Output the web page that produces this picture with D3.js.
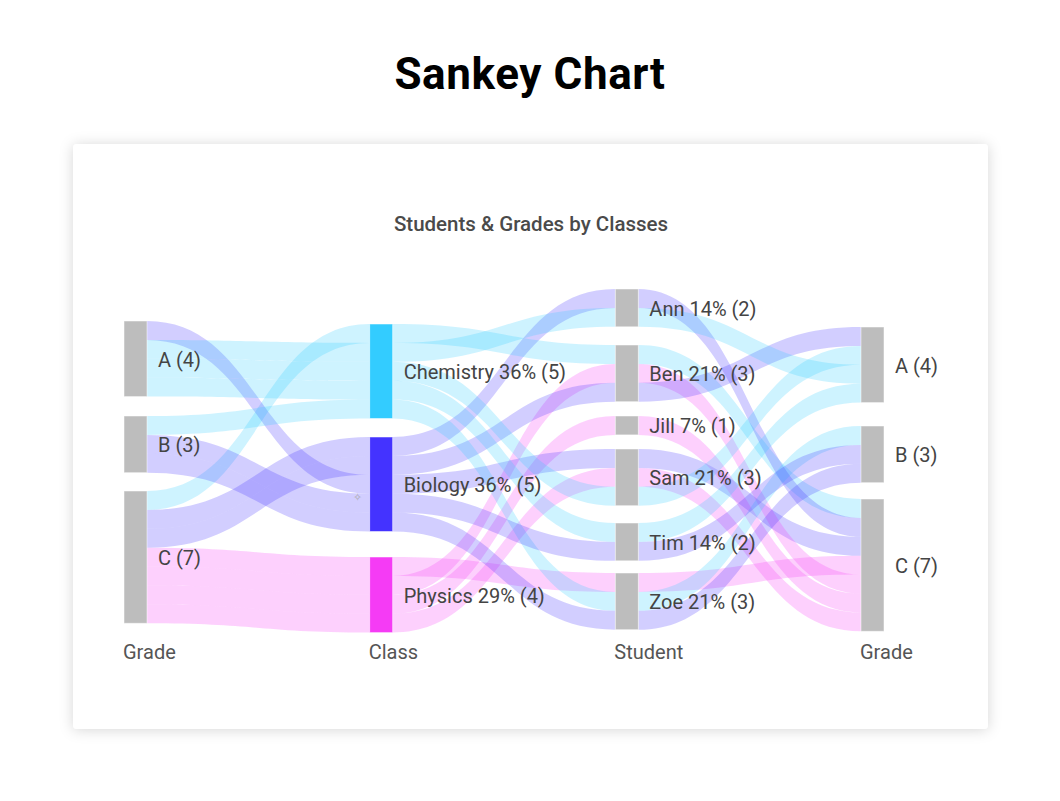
<!DOCTYPE html>
<html><head><meta charset="utf-8">
<script src="https://cdn.jsdelivr.net/npm/d3@7"></script>
<style>body{margin:0;background:#fff;} svg{display:block}</style>
</head><body>
<svg id="chart" width="1060" height="801"></svg>
<script>
// ---------- data ----------
const pageTitle = "Sankey Chart";
const chartTitle = "Students & Grades by Classes";
const grades = ["A", "B", "C"];
const classes = ["Chemistry", "Biology", "Physics"];
const students = ["Ann", "Ben", "Jill", "Sam", "Tim", "Zoe"];
const columnTitles = ["Grade", "Class", "Student", "Grade"];
const classColors = ["#33ccff", "#4433ff", "#f53bf5"];

// Grade -> Class links (one per record, weight 1), in stacking order
const gradeToClass = [
  ["C", "Chemistry"], ["C", "Biology"], ["C", "Biology"], ["A", "Biology"],
  ["A", "Chemistry"], ["A", "Chemistry"], ["A", "Chemistry"], ["B", "Chemistry"],
  ["B", "Biology"], ["B", "Biology"], ["C", "Physics"], ["C", "Physics"],
  ["C", "Physics"], ["C", "Physics"]
];
// Class -> Student links, in stacking order
const classToStudent = [
  ["Biology", "Ann"], ["Chemistry", "Ben"], ["Chemistry", "Ann"], ["Physics", "Zoe"],
  ["Physics", "Ben"], ["Biology", "Ben"], ["Physics", "Jill"], ["Biology", "Sam"],
  ["Physics", "Sam"], ["Chemistry", "Sam"], ["Chemistry", "Tim"], ["Chemistry", "Zoe"],
  ["Biology", "Tim"], ["Biology", "Zoe"]
];
// Student -> Grade links [student, grade, class], in stacking order
const studentToGrade = [
  ["Ben", "C", "Chemistry"], ["Ann", "C", "Biology"], ["Sam", "C", "Biology"],
  ["Zoe", "C", "Physics"], ["Ben", "C", "Physics"], ["Jill", "C", "Physics"],
  ["Sam", "C", "Physics"], ["Ben", "A", "Biology"], ["Sam", "A", "Chemistry"],
  ["Ann", "A", "Chemistry"], ["Tim", "A", "Chemistry"], ["Zoe", "B", "Chemistry"],
  ["Tim", "B", "Biology"], ["Zoe", "B", "Biology"]
];

// ---------- layout settings ----------
const W = 1060, H = 801;
const nodeW = 23;
const unitPx = 18.9;
const colStart = [321, 324, 289, 327];
const colGaps = [[19.4, 18.3], [18.5, 25.5], [18.2, 14.3, 14.1, 17.3, 12.2], [23.4, 16.3]];
const labelFont = "Roboto, sans-serif";

const svg = d3.select("#chart");
const defs = svg.append("defs");
const f = defs.append("filter").attr("id", "shadow").attr("x", "-10%").attr("y", "-10%").attr("width", "120%").attr("height", "120%");
f.append("feDropShadow").attr("dx", 0).attr("dy", 1).attr("stdDeviation", 7).attr("flood-color", "#000").attr("flood-opacity", 0.16);

svg.append("text").attr("x", W / 2).attr("y", 89).attr("text-anchor", "middle")
  .attr("font-family", "Roboto, 'Open Sans', sans-serif").attr("font-weight", 700)
  .attr("font-size", 44).attr("letter-spacing", 0.6).attr("fill", "#000").text(pageTitle);

svg.append("rect").attr("x", 73).attr("y", 144).attr("width", 915).attr("height", 585)
  .attr("rx", 4).attr("fill", "#fff").attr("filter", "url(#shadow)");

svg.append("text").attr("x", 531).attr("y", 231).attr("text-anchor", "middle")
  .attr("font-family", labelFont).attr("font-weight", 500)
  .attr("font-size", 20.5).attr("fill", "#4a4a4a").text(chartTitle);

// ---------- scales ----------
const total = gradeToClass.length;
const vScale = d3.scaleLinear().domain([0, total]).range([0, total * unitPx]);
const xScale = d3.scalePoint().domain(d3.range(4)).range([124, 861]);
const colorOf = d3.scaleOrdinal().domain(classes).range(classColors);

// ---------- nodes ----------
const columns = [grades, classes, students, grades];
function countBy(arr, i) { return d3.rollup(arr, v => v.length, d => d[i]); }
const colValues = [
  countBy(gradeToClass, 0), countBy(gradeToClass, 1),
  countBy(classToStudent, 1), countBy(studentToGrade, 1)
];
const nodes = columns.map((names, ci) => {
  let y = colStart[ci];
  return names.map((name, i) => {
    const value = colValues[ci].get(name) || 0;
    const n = { name, col: ci, value, x: xScale(ci), y0: y, y1: y + vScale(value), outY: y, inY: y };
    y = n.y1 + (colGaps[ci][i] || 0);
    return n;
  });
});
const nodeIn = (ci, name) => nodes[ci].find(n => n.name === name);

// ---------- links ----------
const stages = [
  gradeToClass.map(d => ({ s: nodeIn(0, d[0]), t: nodeIn(1, d[1]), cls: d[1] })),
  classToStudent.map(d => ({ s: nodeIn(1, d[0]), t: nodeIn(2, d[1]), cls: d[0] })),
  studentToGrade.map(d => ({ s: nodeIn(2, d[0]), t: nodeIn(3, d[1]), cls: d[2] }))
];
const allLinks = [];
stages.forEach(st => st.forEach(l => {
  const w = vScale(1);
  l.ys0 = l.s.outY; l.ys1 = l.ys0 + w; l.s.outY = l.ys1;
  l.yt0 = l.t.inY; l.yt1 = l.yt0 + w; l.t.inY = l.yt1;
  l.xs = l.s.x + nodeW; l.xt = l.t.x;
  allLinks.push(l);
}));

function bandPath(l) {
  const xm = (l.xs + l.xt) / 2;
  const p = d3.path();
  p.moveTo(l.xs, l.ys0);
  p.bezierCurveTo(xm, l.ys0, xm, l.yt0, l.xt, l.yt0);
  p.lineTo(l.xt, l.yt1);
  p.bezierCurveTo(xm, l.yt1, xm, l.ys1, l.xs, l.ys1);
  p.closePath();
  return p.toString();
}

svg.append("g").selectAll("path").data(allLinks).join("path")
  .attr("d", bandPath).attr("fill", d => colorOf(d.cls)).attr("fill-opacity", 0.24);

// node rects
const flatNodes = nodes.flat();
svg.append("g").selectAll("rect").data(flatNodes).join("rect")
  .attr("x", d => d.x).attr("y", d => d.y0).attr("width", nodeW).attr("height", d => d.y1 - d.y0)
  .attr("fill", d => d.col === 1 ? colorOf(d.name) : "#bdbdbd")
  .attr("stroke", "#fff").attr("stroke-opacity", 0.5).attr("stroke-width", 1);

// node labels
const fmtPct = v => Math.round(v / total * 100) + "%";
svg.append("g").selectAll("text").data(flatNodes).join("text")
  .attr("x", d => d.x + nodeW + 11).attr("y", d => (d.y0 + d.y1) / 2 + 1)
  .attr("dominant-baseline", "central")
  .attr("font-family", labelFont).attr("font-size", 20).attr("fill", "#444")
  .text(d => (d.col === 1 || d.col === 2) ? `${d.name} ${fmtPct(d.value)} (${d.value})` : `${d.name} (${d.value})`);

// column titles
svg.append("g").selectAll("text").data(columnTitles).join("text")
  .attr("x", (d, i) => xScale(i) - 1).attr("y", 659)
  .attr("font-family", labelFont).attr("font-size", 20).attr("fill", "#555")
  .text(d => d);

// small sparkle glyph seen near the Biology node
svg.append("text").attr("x", 357).attr("y", 501).attr("text-anchor", "middle")
  .attr("font-size", 11).attr("fill", "#aaa").text("\u2727");
</script>
</body></html>
